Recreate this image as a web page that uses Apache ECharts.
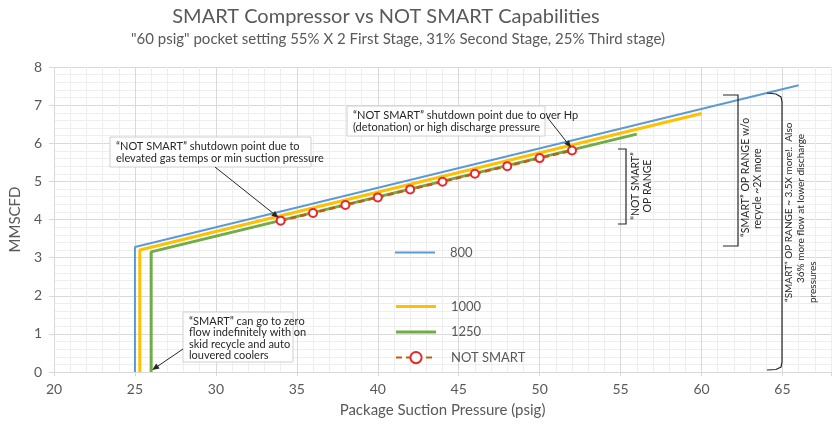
<!DOCTYPE html>
<html>
<head>
<meta charset="utf-8">
<script src="https://cdn.jsdelivr.net/npm/echarts@6/dist/echarts.min.js"></script>
<style>
  html, body { margin: 0; padding: 0; background: #fff; }
  #chart { width: 835px; height: 428px; }
</style>
</head>
<body>
<div id="chart"></div>
<script>
// suction pressure (psig) / flow (MMSCFD) for each speed curve
var psi800 = [25, 25, 66];
var flow800 = [0, 3.28, 7.52];
var psi1000 = [25.3, 25.3, 60];
var flow1000 = [0, 3.2, 6.78];
var psi1250 = [26, 26, 56];
var flow1250 = [0, 3.15, 6.24];
var psiNotSmart = [34, 36, 38, 40, 42, 44, 46, 48, 50, 52];
var flowNotSmart = [3.97, 4.17, 4.38, 4.58, 4.79, 4.99, 5.2, 5.4, 5.61, 5.81];
var xTicks = [20, 25, 30, 35, 40, 45, 50, 55, 60, 65];

var FONT = 'Lato, "Open Sans", sans-serif';
var gray = '#595959';

function zip(xs, ys) {
  return xs.map(function (x, i) { return [x, ys[i]]; });
}

var chartDom = document.getElementById('chart');
var myChart = echarts.init(chartDom, null, { devicePixelRatio: 1, width: 835, height: 428 });

var minorGrid = '#EEEEEE';
var majorGrid = '#D9D9D9';
var xGridColors = [majorGrid, minorGrid, minorGrid, minorGrid, minorGrid];

var legendText = { color: gray, fontSize: 13, padding: [0, 0, 0, 10] };
var thinBar = 'path://M0,0H40V2H0Z';
var thickBar = 'path://M0,0H40V3H0Z';

var option = {
  animation: false,
  textStyle: { fontFamily: FONT },
  grid: { left: 51, right: 4, top: 67, bottom: 56 },
  legend: [
    {
      data: [{ name: '800', icon: thinBar }],
      orient: 'vertical', left: 390, top: 241,
      itemWidth: 40, itemHeight: 14,
      textStyle: legendText
    },
    {
      data: [{ name: '1000', icon: thickBar }, { name: '1250', icon: thickBar }, 'NOT SMART'],
      orient: 'vertical', left: 390, top: 295, itemGap: 12.5,
      itemWidth: 40, itemHeight: 14,
      textStyle: legendText
    }
  ],
  xAxis: [
    {
      type: 'value', min: 20, max: 68, interval: 1,
      name: 'Package Suction Pressure (psig)',
      nameLocation: 'middle', nameGap: 31,
      nameTextStyle: { color: gray, fontSize: 15 },
      axisLine: { lineStyle: { color: majorGrid } },
      axisTick: { show: false },
      axisLabel: {
        color: gray, fontSize: 14, margin: 10,
        formatter: function (v) { return xTicks.indexOf(v) >= 0 ? String(v) : ''; }
      },
      splitLine: { show: true, lineStyle: { color: xGridColors, width: 1 } }
    },
    {
      type: 'value', min: 20, max: 68, interval: 5, position: 'bottom',
      axisLine: { show: false },
      axisTick: { show: true, length: 4, lineStyle: { color: majorGrid } },
      axisLabel: { show: false },
      splitLine: { show: false }
    }
  ],
  yAxis: {
    type: 'value', min: 0, max: 8, interval: 1,
    name: 'MMSCFD', nameLocation: 'middle', nameGap: 31, nameRotate: 90,
    nameTextStyle: { color: gray, fontSize: 15 },
    axisLine: { show: true, lineStyle: { color: majorGrid } },
    axisTick: { show: true, length: 5, lineStyle: { color: majorGrid } },
    axisLabel: { color: gray, fontSize: 14, margin: 12 },
    splitLine: { lineStyle: { color: majorGrid } },
    minorTick: { show: false, splitNumber: 5 },
    minorSplitLine: { show: true, lineStyle: { color: minorGrid } }
  },
  series: [
    {
      name: '800', type: 'line', data: zip(psi800, flow800),
      symbol: 'none', color: '#5B9BD5', lineStyle: { width: 2 }
    },
    {
      name: '1000', type: 'line', data: zip(psi1000, flow1000),
      symbol: 'none', color: '#FFC000', lineStyle: { width: 3 }
    },
    {
      name: '1250', type: 'line', data: zip(psi1250, flow1250),
      symbol: 'none', color: '#70AD47', lineStyle: { width: 3 }
    },
    {
      name: 'NOT SMART', type: 'line', data: zip(psiNotSmart, flowNotSmart),
      symbol: 'emptyCircle', symbolSize: 8,
      lineStyle: { width: 2.5, type: [6, 4], color: '#C55A11' },
      itemStyle: { color: '#E8262B', borderWidth: 1.5 }
    }
  ]
};

myChart.setOption(option);

// ---- annotations ----
var noteFont = '11px ' + FONT;
var sideFont = '10.5px ' + FONT;
var farFont = '10px ' + FONT;
var ink = '#262626';

function arrow(x1, y1, x2, y2) {
  var a = Math.atan2(y2 - y1, x2 - x1);
  var s = 7, w = 3;
  var bx = x2 - s * Math.cos(a), by = y2 - s * Math.sin(a);
  return [
    { type: 'line', shape: { x1: x1, y1: y1, x2: bx, y2: by }, style: { stroke: ink, lineWidth: 1 }, z: 50 },
    {
      type: 'polygon', z: 50,
      shape: { points: [[x2, y2], [bx + w * Math.sin(a), by - w * Math.cos(a)], [bx - w * Math.sin(a), by + w * Math.cos(a)]] },
      style: { fill: ink }
    }
  ];
}

function box(x, y, w, h, lines, lh) {
  var out = [{
    type: 'rect', z: 40, shape: { x: x, y: y, width: w, height: h },
    style: { fill: '#fff', stroke: '#D0D0D0', lineWidth: 1 }
  }];
  lines.forEach(function (t, i) {
    out.push({
      type: 'text', z: 41, x: x + 6, y: y + 9 + i * lh,
      style: { text: t, font: noteFont, fill: ink, align: 'left', verticalAlign: 'middle' }
    });
  });
  return out;
}

function vtext(x, y, t, align, font) {
  return {
    type: 'text', z: 41, x: x, y: y, rotation: Math.PI / 2,
    style: { text: t, font: font || sideFont, fill: ink, align: align || 'left', verticalAlign: 'middle' }
  };
}

function bracket(x, y1, y2, tick) {
  return {
    type: 'polyline', z: 45,
    shape: { points: [[x - tick, y1], [x, y1], [x, y2], [x - tick, y2]] },
    style: { stroke: ink, lineWidth: 1.2, fill: null }
  };
}

var pStart = myChart.convertToPixel({ gridIndex: 0 }, [psiNotSmart[0], flowNotSmart[0]]);
var pEnd = myChart.convertToPixel({ gridIndex: 0 }, [psiNotSmart[psiNotSmart.length - 1], flowNotSmart[flowNotSmart.length - 1]]);
var pZero = myChart.convertToPixel({ gridIndex: 0 }, [psi1250[0], flow1250[0]]);

var g = [];
g = g.concat(box(110, 137, 201, 30, ['\u201CNOT SMART\u201D shutdown point due to', 'elevated gas temps or min suction pressure'], 12));
g = g.concat(box(347, 106, 198, 30, ['\u201CNOT SMART\u201D shutdown point due to over Hp', '(detonation) or high discharge pressure'], 12));
g = g.concat(box(183, 312, 110, 50, ['\u201CSMART\u201D can go to zero', 'flow indefinitely with on', 'skid recycle and auto', 'louvered coolers'], 11.5));
g = g.concat(arrow(215, 167, pStart[0] - 2, pStart[1] - 3));
g = g.concat(arrow(547, 117, pEnd[0] - 1, pEnd[1] - 3));
g = g.concat(arrow(183, 349, pZero[0] + 1, pZero[1] - 2));

g.push(bracket(626, 149, 224, 8));
g.push(vtext(636, 186, '\u201CNOT SMART\u201D', 'center'));
g.push(vtext(648, 186, 'OP RANGE', 'center'));

g.push(bracket(738, 95, 246, 15));
g.push(vtext(746, 237, '\u201CSMART\u201D OP RANGE w/o'));
g.push(vtext(758, 229, 'recycle ~2X more'));

g.push({
  type: 'polyline', z: 45,
  shape: { points: [[767, 93], [776, 94], [781, 97], [782, 102], [782, 362], [781, 367], [776, 369.5], [767, 370]] },
  style: { stroke: ink, lineWidth: 1.2, fill: null }
});
g.push(vtext(789, 302, '\u201CSMART\u201D OP RANGE ~ 3.5X more!.  Also', 'left', farFont));
g.push(vtext(801, 283, '36% more flow at lower discharge', 'left', farFont));
g.push(vtext(813, 303, 'pressures', 'left', farFont));

g.push({
  type: 'text', x: 386, y: 17,
  style: { text: 'SMART Compressor vs NOT SMART Capabilities', font: '20px ' + FONT, fill: gray, align: 'center', verticalAlign: 'middle' }
});
g.push({
  type: 'text', x: 398, y: 39,
  style: { text: '"60 psig" pocket setting 55% X 2 First Stage, 31% Second Stage, 25% Third stage)', font: '15px ' + FONT, fill: gray, align: 'center', verticalAlign: 'middle' }
});

myChart.setOption({ graphic: g });
</script>
</body>
</html>
